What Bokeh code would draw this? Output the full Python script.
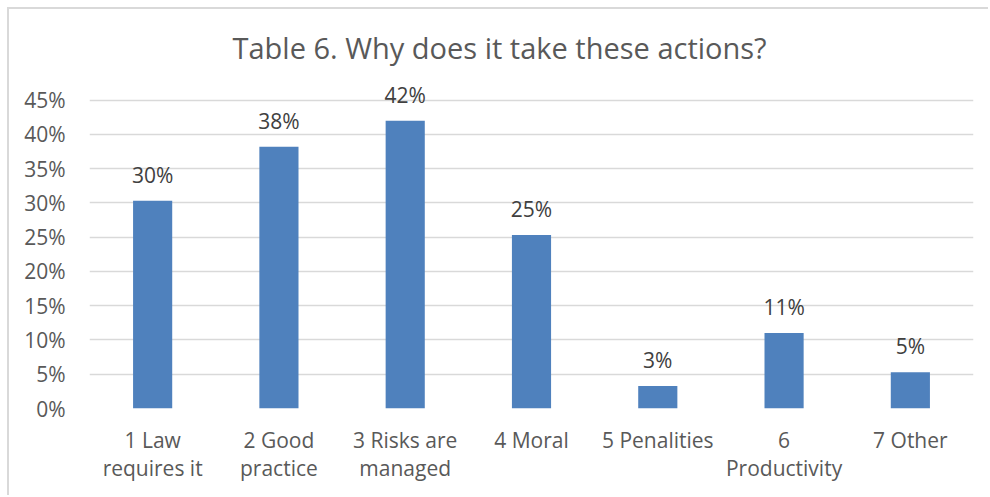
from bokeh.plotting import figure
from bokeh.models import ColumnDataSource, FactorRange, Range1d, NumeralTickFormatter, FixedTicker, LabelSet
from bokeh.core.properties import value
from bokeh.embed import file_html
from bokeh.resources import INLINE

categories = ["1 Law\nrequires it", "2 Good\npractice", "3 Risks are\nmanaged", "4 Moral",
              "5 Penalities", "6\nProductivity", "7 Other"]
shares = [0.303, 0.382, 0.420, 0.253, 0.033, 0.110, 0.053]
y_ticks = [0, 0.05, 0.10, 0.15, 0.20, 0.25, 0.30, 0.35, 0.40, 0.45]
title_text = "Table 6. Why does it take these actions?"

labels = [f"{round(v * 100)}%" for v in shares]
src = ColumnDataSource(dict(cat=categories, val=shares, lab=labels))

FONT = "Open Sans"
GREY = "#595959"

p = figure(width=981, height=488, x_range=FactorRange(*categories, range_padding=0),
           y_range=Range1d(0, 0.48), output_backend="svg", toolbar_location=None,
           min_border_left=80, min_border_right=17, min_border_top=70, min_border_bottom=89)
p.styles = {"margin-left": "7px", "margin-top": "7px",
            "border-left": "2px solid #d9d9d9", "border-top": "2px solid #d9d9d9"}

p.vbar(x="cat", top="val", width=0.31, source=src, fill_color="#4f81bd", line_color=None)
p.add_layout(LabelSet(x="cat", y="val", text="lab", source=src, text_align="center",
                      text_baseline="bottom", y_offset=12, text_font=value(FONT),
                      text_font_size="21px", text_color="#404040"))

p.title.text = title_text
p.title.text_font = FONT
p.title.text_font_size = "29px"
p.title.text_font_style = "normal"
p.title.text_color = GREY
p.title.align = "left"
p.title.offset = 143
p.title.standoff = 26

p.outline_line_color = None
p.xgrid.grid_line_color = None
p.ygrid.grid_line_color = "#d9d9d9"
p.ygrid.grid_line_width = 1.5
p.yaxis.ticker = FixedTicker(ticks=y_ticks)
p.yaxis.formatter = NumeralTickFormatter(format="0%")
for ax in (p.xaxis[0], p.yaxis[0]):
    ax.axis_line_color = None
    ax.major_tick_line_color = None
    ax.minor_tick_line_color = None
    ax.major_label_text_font = FONT
    ax.major_label_text_font_size = "21px"
    ax.major_label_text_color = GREY
p.yaxis.major_label_standoff = 18
p.xaxis.major_label_standoff = 11
p.xaxis.major_label_text_line_height = 1.0

open("out.html", "w").write(file_html(p, INLINE))
